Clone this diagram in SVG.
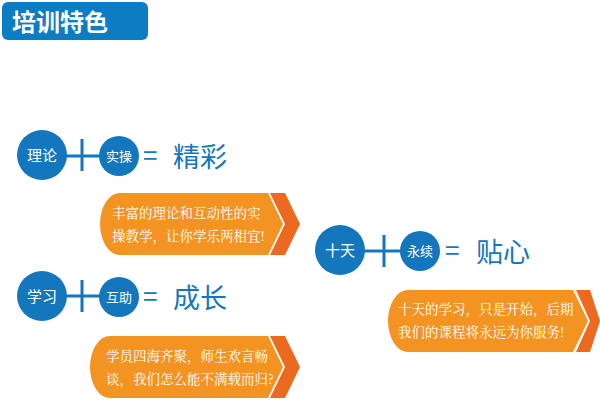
<svg xmlns="http://www.w3.org/2000/svg" width="600" height="400" viewBox="0 0 600 400">
<style>
.c{fill:#1477be}
.ct{fill:#fff;font-family:"Noto Sans CJK SC",sans-serif;font-size:15px;text-anchor:middle}
.cs{fill:#fff;font-family:"Noto Sans CJK SC",sans-serif;font-size:13px;text-anchor:middle}
.ln{stroke:#1477be;stroke-width:3}
.eq{fill:#1477be;font-family:"Noto Sans CJK SC",sans-serif;font-size:26px}
.big{fill:#1477be;font-family:"Noto Sans CJK SC",sans-serif;font-size:27px}
.box{fill:#f39322}
.chev{fill:#ec6a20}
.bt{fill:#fff;font-family:"Noto Serif CJK SC","Noto Sans CJK SC",serif;font-size:13.5px}
</style>
<g id="title"><rect x="2" y="2" width="146" height="38" rx="6" fill="#0c7dc3"/><text x="12" y="31" fill="#fff" font-family="Noto Sans CJK SC,sans-serif" font-size="24" font-weight="bold">培训特色</text></g>
<g id="connectors">
<line class="ln" x1="60" y1="156" x2="100" y2="156"/><line class="ln" x1="82" y1="139" x2="82" y2="171"/>
<line class="ln" x1="60" y1="296" x2="100" y2="296"/><line class="ln" x1="82" y1="280" x2="82" y2="312"/>
<line class="ln" x1="358" y1="251" x2="402" y2="251"/><line class="ln" x1="384" y1="235" x2="384" y2="267"/>
</g>
<g id="n1"><circle class="c" cx="42" cy="155" r="25"/><text class="ct" x="42" y="161">理论</text></g>
<g id="n2"><circle class="c" cx="119" cy="156" r="20"/><text class="cs" x="119" y="161">实操</text></g>
<g id="r1"><text class="eq" x="143" y="165">=</text><text class="big" x="173" y="167">精彩</text></g>
<g id="b1"><path class="box" d="M120,193 H268 L283,224 L268,255 H120 A20,31 0 0 1 120,193 Z"/><polygon class="chev" points="270,193 285,193 300,224 285,255 270,255 285,224"/><text class="bt" x="112" y="218">丰富的理论和互动性的实</text><text class="bt" x="112" y="241">操教学，让你学乐两相宜!</text></g>
<g id="n3"><circle class="c" cx="42" cy="296" r="25"/><text class="ct" x="42" y="302">学习</text></g>
<g id="n4"><circle class="c" cx="119" cy="297" r="20"/><text class="cs" x="119" y="302">互助</text></g>
<g id="r2"><text class="eq" x="143" y="306">=</text><text class="big" x="173" y="308">成长</text></g>
<g id="b2"><path class="box" d="M110,336 H268 L283,367 L268,398 H110 A20,31 0 0 1 110,336 Z"/><polygon class="chev" points="270,336 285,336 300,367 285,398 270,398 285,367"/><text class="bt" x="106" y="361">学员四海齐聚，师生欢言畅</text><text class="bt" x="106" y="384">谈，我们怎么能不满载而归?</text></g>
<g id="n5"><circle class="c" cx="340" cy="250" r="25"/><text class="ct" x="340" y="256">十天</text></g>
<g id="n6"><circle class="c" cx="420" cy="251" r="20"/><text class="cs" x="420" y="256">永续</text></g>
<g id="r3"><text class="eq" x="445" y="260">=</text><text class="big" x="476" y="262">贴心</text></g>
<g id="b3"><path class="box" d="M408,290 H573 L588,321 L573,352 H408 A20,31 0 0 1 408,290 Z"/><polygon class="chev" points="576,290 590,290 600,321 590,352 576,352 590,321"/><text class="bt" x="398" y="314">十天的学习，只是开始，后期</text><text class="bt" x="398" y="337">我们的课程将永远为你服务!</text></g>
</svg>
